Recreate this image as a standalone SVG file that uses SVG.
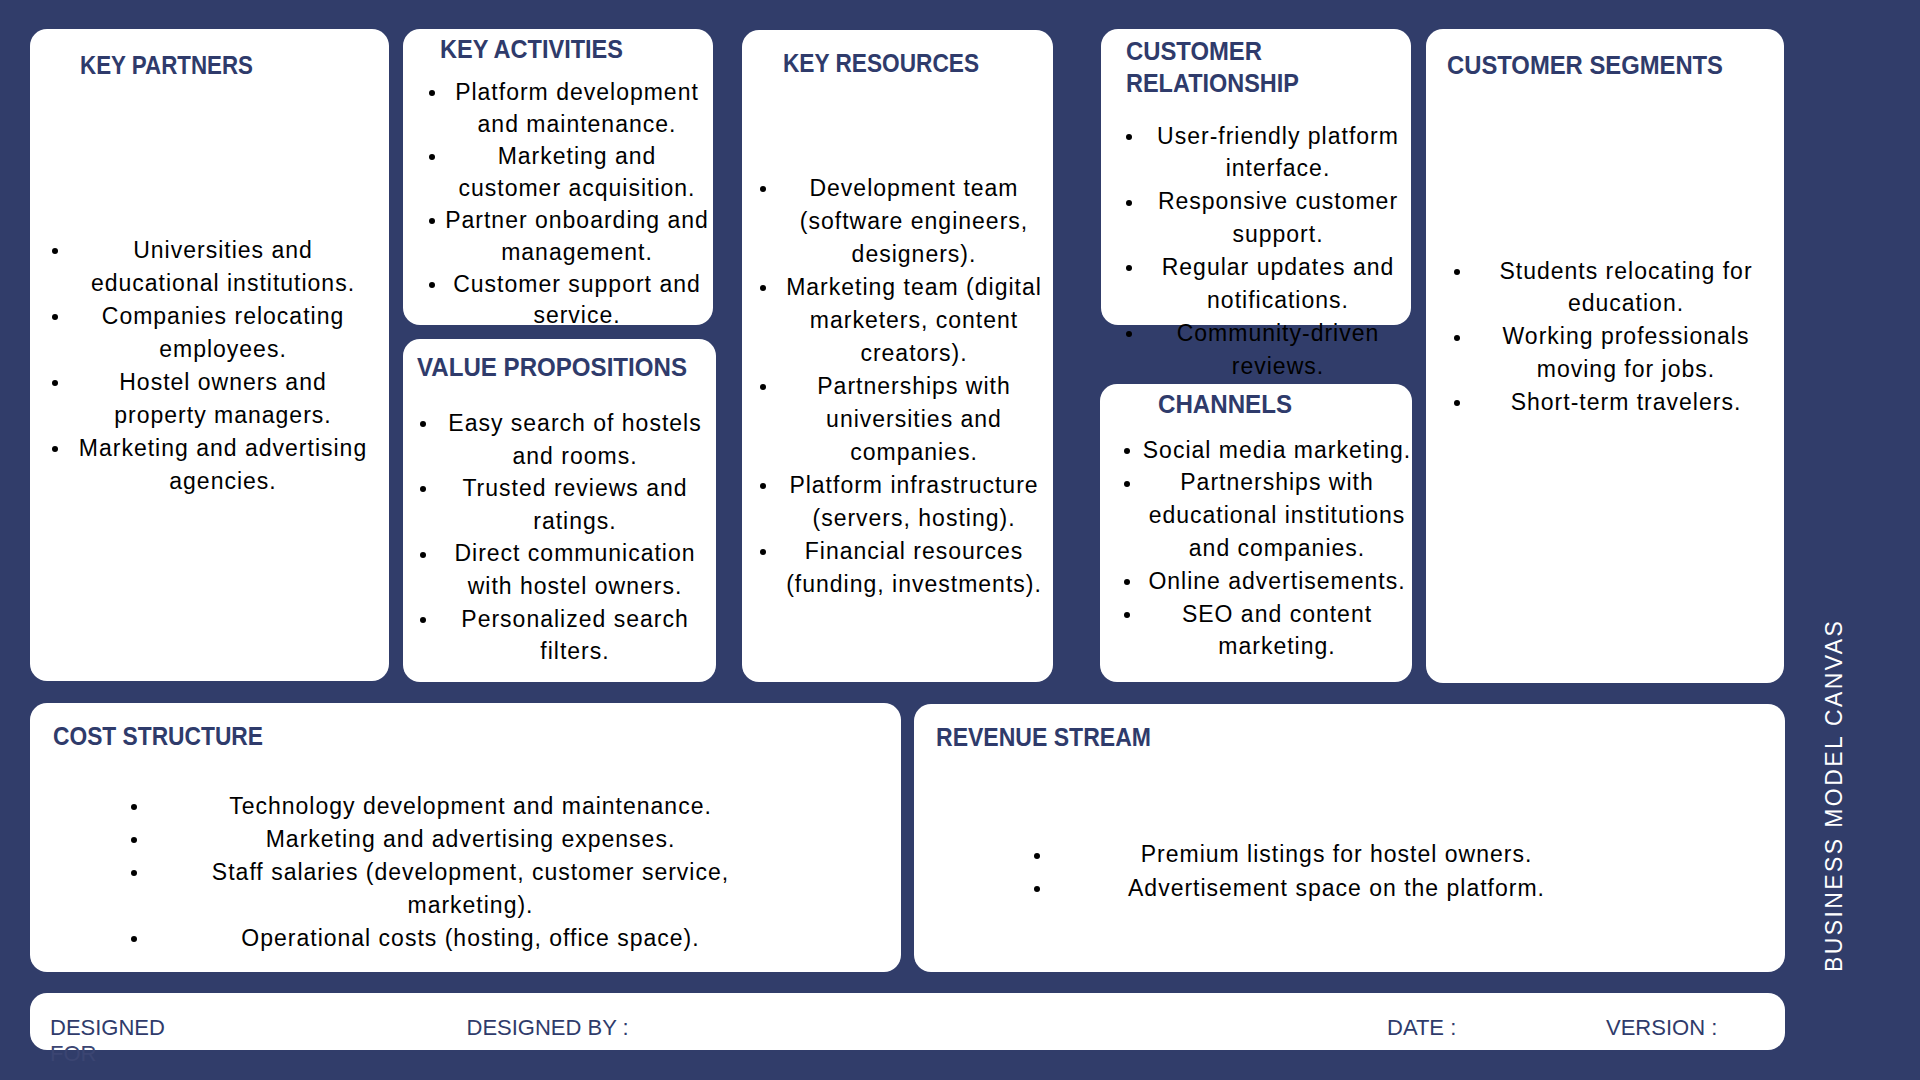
<svg xmlns="http://www.w3.org/2000/svg" width="1920" height="1080" viewBox="0 0 1920 1080">
<defs>
<style>
.bg{fill:#313d6a}
.card{fill:#ffffff}
.h{font-family:"Liberation Sans",Arial,sans-serif;font-weight:bold;font-size:25px;fill:#2f3b6b}
.t{font-family:"Liberation Sans",Arial,sans-serif;font-size:23px;letter-spacing:1px;fill:#000000;text-anchor:middle}
.f{font-family:"Liberation Sans",Arial,sans-serif;font-size:22px;fill:#2f3b6b}
.v{font-family:"Liberation Sans",Arial,sans-serif;font-size:23px;letter-spacing:2.4px;fill:#ffffff}
.dot{fill:#000000}
</style>
</defs>
<rect class="bg" x="0" y="0" width="1920" height="1080"/>

<g id="key-partners">
<rect class="card" x="30" y="29" width="359" height="652" rx="17"/>
<text class="h" x="80" y="74" textLength="173" lengthAdjust="spacingAndGlyphs">KEY PARTNERS</text>
<circle class="dot" cx="55" cy="251" r="3"/>
<circle class="dot" cx="55" cy="317" r="3"/>
<circle class="dot" cx="55" cy="383" r="3"/>
<circle class="dot" cx="55" cy="449" r="3"/>
<text class="t" x="223" y="258">Universities and</text>
<text class="t" x="223" y="291">educational institutions.</text>
<text class="t" x="223" y="324">Companies relocating</text>
<text class="t" x="223" y="357">employees.</text>
<text class="t" x="223" y="390">Hostel owners and</text>
<text class="t" x="223" y="423">property managers.</text>
<text class="t" x="223" y="456">Marketing and advertising</text>
<text class="t" x="223" y="489">agencies.</text>
</g>

<g id="key-activities">
<rect class="card" x="403" y="29" width="310" height="296" rx="17"/>
<text class="h" x="440" y="58" textLength="183" lengthAdjust="spacingAndGlyphs">KEY ACTIVITIES</text>
<circle class="dot" cx="432" cy="93" r="3"/>
<circle class="dot" cx="432" cy="157" r="3"/>
<circle class="dot" cx="432" cy="221" r="3"/>
<circle class="dot" cx="432" cy="285" r="3"/>
<text class="t" x="577" y="100">Platform development</text>
<text class="t" x="577" y="132">and maintenance.</text>
<text class="t" x="577" y="164">Marketing and</text>
<text class="t" x="577" y="196">customer acquisition.</text>
<text class="t" x="577" y="228">Partner onboarding and</text>
<text class="t" x="577" y="260">management.</text>
<text class="t" x="577" y="292">Customer support and</text>
<text class="t" x="577" y="323">service.</text>
</g>

<g id="value-propositions">
<rect class="card" x="403" y="339" width="313" height="343" rx="17"/>
<text class="h" x="417" y="376" textLength="270" lengthAdjust="spacingAndGlyphs">VALUE PROPOSITIONS</text>
<circle class="dot" cx="423" cy="424" r="3"/>
<circle class="dot" cx="423" cy="489" r="3"/>
<circle class="dot" cx="423" cy="555" r="3"/>
<circle class="dot" cx="423" cy="620" r="3"/>
<text class="t" x="575" y="431">Easy search of hostels</text>
<text class="t" x="575" y="463.6">and rooms.</text>
<text class="t" x="575" y="496.2">Trusted reviews and</text>
<text class="t" x="575" y="528.8">ratings.</text>
<text class="t" x="575" y="561.4">Direct communication</text>
<text class="t" x="575" y="594">with hostel owners.</text>
<text class="t" x="575" y="626.6">Personalized search</text>
<text class="t" x="575" y="659.2">filters.</text>
</g>

<g id="key-resources">
<rect class="card" x="742" y="30" width="311" height="652" rx="17"/>
<text class="h" x="783" y="71.5" textLength="196" lengthAdjust="spacingAndGlyphs">KEY RESOURCES</text>
<circle class="dot" cx="763" cy="189" r="3"/>
<circle class="dot" cx="763" cy="288" r="3"/>
<circle class="dot" cx="763" cy="387" r="3"/>
<circle class="dot" cx="763" cy="486" r="3"/>
<circle class="dot" cx="763" cy="552" r="3"/>
<text class="t" x="914" y="196">Development team</text>
<text class="t" x="914" y="229">(software engineers,</text>
<text class="t" x="914" y="262">designers).</text>
<text class="t" x="914" y="295">Marketing team (digital</text>
<text class="t" x="914" y="328">marketers, content</text>
<text class="t" x="914" y="361">creators).</text>
<text class="t" x="914" y="394">Partnerships with</text>
<text class="t" x="914" y="427">universities and</text>
<text class="t" x="914" y="460">companies.</text>
<text class="t" x="914" y="493">Platform infrastructure</text>
<text class="t" x="914" y="526">(servers, hosting).</text>
<text class="t" x="914" y="559">Financial resources</text>
<text class="t" x="914" y="592">(funding, investments).</text>
</g>

<g id="customer-relationship">
<rect class="card" x="1101" y="29" width="310" height="296" rx="17"/>
<text class="h" x="1126" y="59.5" textLength="136" lengthAdjust="spacingAndGlyphs">CUSTOMER</text>
<text class="h" x="1126" y="91.5" textLength="173" lengthAdjust="spacingAndGlyphs">RELATIONSHIP</text>
<circle class="dot" cx="1129" cy="137" r="3"/>
<circle class="dot" cx="1129" cy="203" r="3"/>
<circle class="dot" cx="1129" cy="268" r="3"/>
<circle class="dot" cx="1129" cy="334" r="3"/>
<text class="t" x="1278" y="143.5">User-friendly platform</text>
<text class="t" x="1278" y="176.4">interface.</text>
<text class="t" x="1278" y="209.3">Responsive customer</text>
<text class="t" x="1278" y="242.2">support.</text>
<text class="t" x="1278" y="275.1">Regular updates and</text>
<text class="t" x="1278" y="308">notifications.</text>
<text class="t" x="1278" y="340.9">Community-driven</text>
<text class="t" x="1278" y="373.8">reviews.</text>
</g>

<g id="channels">
<rect class="card" x="1100" y="384" width="312" height="298" rx="17"/>
<text class="h" x="1158" y="413" textLength="134" lengthAdjust="spacingAndGlyphs">CHANNELS</text>
<circle class="dot" cx="1127" cy="451" r="3"/>
<circle class="dot" cx="1127" cy="484" r="3"/>
<circle class="dot" cx="1127" cy="582" r="3"/>
<circle class="dot" cx="1127" cy="615" r="3"/>
<text class="t" x="1277" y="457.5">Social media marketing.</text>
<text class="t" x="1277" y="490.3">Partnerships with</text>
<text class="t" x="1277" y="523.1">educational institutions</text>
<text class="t" x="1277" y="555.9">and companies.</text>
<text class="t" x="1277" y="588.7">Online advertisements.</text>
<text class="t" x="1277" y="621.5">SEO and content</text>
<text class="t" x="1277" y="654.3">marketing.</text>
</g>

<g id="customer-segments">
<rect class="card" x="1426" y="29" width="358" height="654" rx="17"/>
<text class="h" x="1447" y="74" textLength="276" lengthAdjust="spacingAndGlyphs">CUSTOMER SEGMENTS</text>
<circle class="dot" cx="1457" cy="272" r="3"/>
<circle class="dot" cx="1457" cy="338" r="3"/>
<circle class="dot" cx="1457" cy="403" r="3"/>
<text class="t" x="1626" y="278.5">Students relocating for</text>
<text class="t" x="1626" y="311.4">education.</text>
<text class="t" x="1626" y="344.3">Working professionals</text>
<text class="t" x="1626" y="377.2">moving for jobs.</text>
<text class="t" x="1626" y="410.1">Short-term travelers.</text>
</g>

<g id="cost-structure">
<rect class="card" x="30" y="703" width="871" height="269" rx="17"/>
<text class="h" x="53" y="745" textLength="210" lengthAdjust="spacingAndGlyphs">COST STRUCTURE</text>
<circle class="dot" cx="134" cy="807" r="3"/>
<circle class="dot" cx="134" cy="840" r="3"/>
<circle class="dot" cx="134" cy="873" r="3"/>
<circle class="dot" cx="134" cy="939" r="3"/>
<text class="t" x="470.5" y="813.5">Technology development and maintenance.</text>
<text class="t" x="470.5" y="846.5">Marketing and advertising expenses.</text>
<text class="t" x="470.5" y="879.5">Staff salaries (development, customer service,</text>
<text class="t" x="470.5" y="912.5">marketing).</text>
<text class="t" x="470.5" y="945.5">Operational costs (hosting, office space).</text>
</g>

<g id="revenue-stream">
<rect class="card" x="914" y="704" width="871" height="268" rx="17"/>
<text class="h" x="936" y="746" textLength="215" lengthAdjust="spacingAndGlyphs">REVENUE STREAM</text>
<circle class="dot" cx="1037" cy="856" r="3"/>
<circle class="dot" cx="1037" cy="889" r="3"/>
<text class="t" x="1336.5" y="862.3">Premium listings for hostel owners.</text>
<text class="t" x="1336.5" y="895.7">Advertisement space on the platform.</text>
</g>

<g id="footer">
<rect class="card" x="30" y="993" width="1755" height="57" rx="17"/>
<text class="f" x="50" y="1035">DESIGNED</text>
<text class="f" x="50" y="1061" style="fill:#3b4572">FOR</text>
<text class="f" x="466.5" y="1035">DESIGNED BY :</text>
<text class="f" x="1387" y="1035">DATE :</text>
<text class="f" x="1606" y="1035">VERSION :</text>
</g>

<g id="title">
<text class="v" transform="translate(1842,972) rotate(-90)">BUSINESS MODEL CANVAS</text>
</g>

<g id="connectors"></g>
</svg>
